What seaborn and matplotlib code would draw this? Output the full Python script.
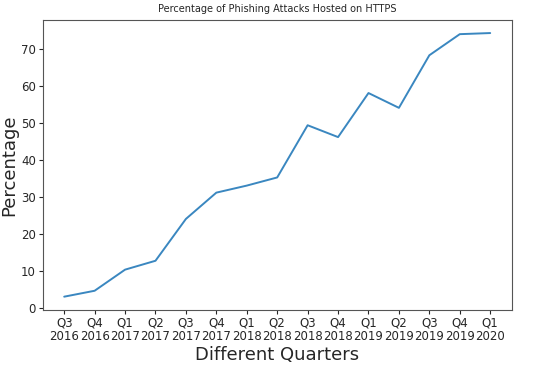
import matplotlib
matplotlib.use("Agg")
import numpy as np
import pandas as pd
import seaborn as sns
import matplotlib.pyplot as plt

quarters = ["Q3\n2016", "Q4\n2016", "Q1\n2017", "Q2\n2017", "Q3\n2017", "Q4\n2017",
            "Q1\n2018", "Q2\n2018", "Q3\n2018", "Q4\n2018", "Q1\n2019", "Q2\n2019",
            "Q3\n2019", "Q4\n2019", "Q1\n2020"]
percentage = [3.0, 4.6, 10.3, 12.7, 24.0, 31.1, 33.0, 35.2, 49.3, 46.1, 58.0, 54.0,
              68.2, 73.9, 74.2]

df = pd.DataFrame({"pos": np.arange(len(quarters)), "pct": percentage})

sns.set_style("ticks")
fig, ax = plt.subplots(figsize=(5.5, 3.68), dpi=100)
sns.lineplot(data=df, x="pos", y="pct", color="#3a87c0", linewidth=1.4, ax=ax)

ax.set_xticks(df["pos"])
ax.set_xticklabels(quarters, fontsize=8.5, linespacing=1.0)
ax.tick_params(axis="y", labelsize=8.5, length=3, pad=2)
ax.tick_params(axis="x", length=3, pad=2)
for s in ax.spines.values():
    s.set_visible(True)
    s.set_color("#555555")
ax.set_title("Percentage of Phishing Attacks Hosted on HTTPS", fontsize=7)
ax.set_xlabel("Different Quarters", fontsize=13, labelpad=2)
ax.set_ylabel("Percentage", fontsize=13, labelpad=2)

plt.subplots_adjust(left=0.078, right=0.93, top=0.946, bottom=0.158)
fig.savefig("out.png", dpi=100)
